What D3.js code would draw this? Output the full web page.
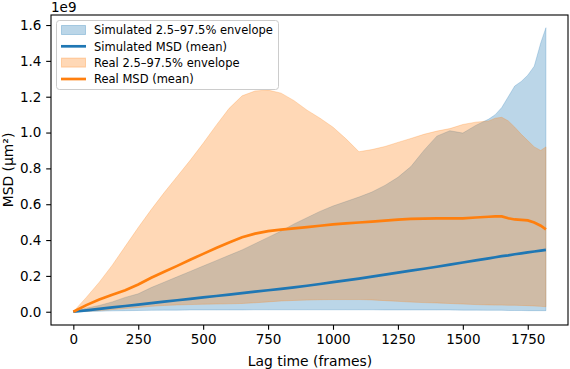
<!DOCTYPE html>
<html><head><meta charset="utf-8">
<script src="https://cdn.jsdelivr.net/npm/d3@7"></script>
<style>body{margin:0;background:#fff}svg{display:block;font-family:"DejaVu Sans",sans-serif}</style>
</head><body><svg id="c" width="570" height="369"></svg>
<script>
const lag = [0,50,100,150,200,250,300,350,400,450,500,550,600,650,700,750,800,850,900,950,1000,1050,1100,1150,1200,1250,1300,1350,1400,1450,1500,1550,1600,1625,1650,1675,1700,1725,1750,1775,1800,1820];
// values in units of 1e9 µm²
const simLo = [0,0.001,0.003,0.005,0.006,0.007,0.008,0.009,0.009,0.01,0.01,0.01,0.01,0.01,0.011,0.011,0.011,0.011,0.011,0.011,0.011,0.011,0.011,0.011,0.01,0.01,0.01,0.01,0.01,0.01,0.009,0.009,0.008,0.008,0.008,0.007,0.007,0.007,0.006,0.006,0.006,0.006];
const simHi = [0,0.02,0.035,0.055,0.08,0.1,0.135,0.165,0.195,0.225,0.255,0.285,0.315,0.345,0.38,0.415,0.45,0.49,0.525,0.56,0.59,0.615,0.64,0.668,0.705,0.75,0.81,0.9,0.98,1.01,0.997,1.04,1.075,1.1,1.14,1.2,1.26,1.285,1.32,1.37,1.5,1.585];
const simMean = [0,0.008,0.016,0.024,0.032,0.04,0.048,0.056,0.064,0.072,0.08,0.088,0.096,0.104,0.112,0.12,0.128,0.136,0.145,0.155,0.165,0.175,0.185,0.196,0.207,0.218,0.229,0.24,0.251,0.263,0.275,0.287,0.298,0.304,0.31,0.315,0.321,0.326,0.331,0.336,0.341,0.345];
const realLo = [0,0.003,0.007,0.012,0.018,0.024,0.03,0.035,0.038,0.04,0.042,0.043,0.044,0.046,0.05,0.055,0.06,0.063,0.065,0.067,0.068,0.068,0.068,0.066,0.062,0.058,0.054,0.051,0.049,0.046,0.043,0.04,0.038,0.037,0.037,0.036,0.036,0.035,0.034,0.032,0.03,0.028];
const realHi = [0,0.08,0.165,0.26,0.365,0.47,0.57,0.665,0.755,0.845,0.94,1.04,1.135,1.205,1.232,1.237,1.22,1.178,1.125,1.08,1.03,0.965,0.893,0.905,0.922,0.945,0.967,0.99,1.008,1.022,1.045,1.058,1.065,1.08,1.085,1.065,1.03,0.99,0.955,0.92,0.9,0.92];
const realMean = [0,0.037,0.068,0.095,0.12,0.152,0.19,0.223,0.256,0.29,0.323,0.356,0.387,0.416,0.436,0.45,0.458,0.465,0.472,0.48,0.488,0.493,0.498,0.503,0.508,0.514,0.518,0.52,0.521,0.521,0.521,0.526,0.53,0.532,0.532,0.522,0.515,0.513,0.51,0.498,0.48,0.46];
const xTicks = [0,250,500,750,1000,1250,1500,1750];
const yTicks = [0.0,0.2,0.4,0.6,0.8,1.0,1.2,1.4,1.6];
const legendLabels = ["Simulated 2.5–97.5% envelope","Simulated MSD (mean)","Real 2.5–97.5% envelope","Real MSD (mean)"];

const BLUE="#1f77b4", ORANGE="#ff7f0e";
const L=51,R=568,T=15,B=325;
const svg=d3.select("#c");
const x=d3.scaleLinear().domain([-86,1905]).range([L,R]);
const y=d3.scaleLinear().domain([-0.074,1.656]).range([B,T]);

const area=(lo,hi)=>d3.area().x((d,i)=>x(lag[i])).y0((d,i)=>y(lo[i])).y1((d,i)=>y(hi[i]));
const line=(v)=>d3.line().x((d,i)=>x(lag[i])).y((d,i)=>y(v[i]));

svg.append("path").datum(lag).attr("d",area(simLo,simHi)).attr("fill",BLUE).attr("fill-opacity",0.3).attr("stroke",BLUE).attr("stroke-opacity",0.3).attr("stroke-width",0.8);
svg.append("path").datum(lag).attr("d",area(realLo,realHi)).attr("fill",ORANGE).attr("fill-opacity",0.3).attr("stroke",ORANGE).attr("stroke-opacity",0.3).attr("stroke-width",0.8);
svg.append("path").datum(lag).attr("d",line(simMean)).attr("fill","none").attr("stroke",BLUE).attr("stroke-width",2.7);
svg.append("path").datum(lag).attr("d",line(realMean)).attr("fill","none").attr("stroke",ORANGE).attr("stroke-width",2.7);

// axes
const xa=svg.append("g").attr("transform",`translate(0,${B})`).call(d3.axisBottom(x).tickValues(xTicks).tickFormat(d3.format("d")).tickSize(4.8).tickPadding(4.8));
const ya=svg.append("g").attr("transform",`translate(${L},0)`).call(d3.axisLeft(y).tickValues(yTicks).tickFormat(d3.format(".1f")).tickSize(4.8).tickPadding(4.8));
[xa,ya].forEach(g=>{g.select(".domain").remove();g.selectAll("text").attr("font-size",13.5).attr("fill","#000").attr("font-family","DejaVu Sans");g.selectAll("line").attr("stroke","#000").attr("stroke-width",1.1);});
svg.append("rect").attr("x",L).attr("y",T).attr("width",R-L).attr("height",B-T).attr("fill","none").attr("stroke","#000").attr("stroke-width",1.1);

svg.append("text").attr("x",L).attr("y",12).attr("font-size",13.5).text("1e9");
svg.append("text").attr("x",310).attr("y",366).attr("text-anchor","middle").attr("font-size",13.9).text("Lag time (frames)");
svg.append("text").attr("transform","translate(13,170) rotate(-90)").attr("text-anchor","middle").attr("font-size",13.9).text("MSD (µm²)");

// legend
const lg=svg.append("g");
lg.append("rect").attr("x",56.5).attr("y",20.5).attr("width",222).attr("height",69).attr("rx",3).attr("fill","#fff").attr("fill-opacity",0.8).attr("stroke","#ccc");
const rowsY=[30,46.3,62.6,79];
legendLabels.forEach((lab,i)=>{
  const cy=rowsY[i], col=i<2?BLUE:ORANGE;
  if(i%2===0){
    lg.append("rect").attr("x",61.5).attr("y",cy-4.5).attr("width",24).attr("height",9).attr("fill",col).attr("fill-opacity",0.3).attr("stroke",col).attr("stroke-opacity",0.3);
  } else {
    lg.append("line").attr("x1",61).attr("x2",86).attr("y1",cy).attr("y2",cy).attr("stroke",col).attr("stroke-width",2.7);
  }
  lg.append("text").attr("x",94).attr("y",cy+4.2).attr("font-size",11.5).text(lab);
});
</script></body></html>
